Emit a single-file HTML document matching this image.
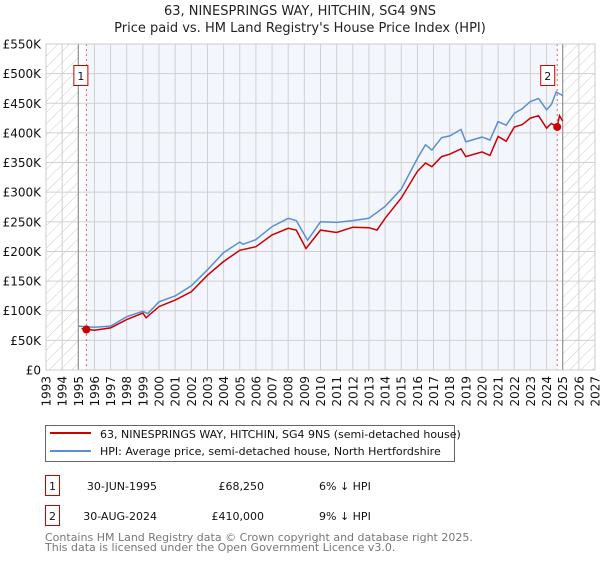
<!DOCTYPE html>
<html><head><meta charset="utf-8"><style>
body{margin:0;background:#fff;font-family:"DejaVu Sans","Liberation Sans",sans-serif}
svg text{font-family:"DejaVu Sans","Liberation Sans",sans-serif}
</style></head><body>
<svg id="c" width="600" height="560" viewBox="0 0 600 560">
<defs><pattern id="hatch" width="8" height="8" patternUnits="userSpaceOnUse" patternTransform="rotate(45)"><line x1="0" y1="0" x2="0" y2="8" stroke="#ccc" stroke-width="1"/></pattern></defs>
<text x="300" y="15" text-anchor="middle" font-size="13" fill="#222">63, NINESPRINGS WAY, HITCHIN, SG4 9NS</text>
<text x="300" y="32" text-anchor="middle" font-size="13" fill="#222">Price paid vs. HM Land Registry's House Price Index (HPI)</text>
<g id="plot"></g>
<g>
<rect x="45.5" y="425.5" width="409" height="36" fill="#fff" stroke="#666"/>
<line x1="50" y1="433" x2="91" y2="433" stroke="#cc0000" stroke-width="2"/>
<text x="100" y="438" font-size="11" fill="#111">63, NINESPRINGS WAY, HITCHIN, SG4 9NS (semi-detached house)</text>
<line x1="50" y1="451" x2="91" y2="451" stroke="#5b8fd0" stroke-width="2"/>
<text x="100" y="455" font-size="11" fill="#111">HPI: Average price, semi-detached house, North Hertfordshire</text>
</g>
<g font-size="11" fill="#111">
<rect x="45.5" y="475.5" width="14" height="20" fill="#fff" stroke="#cc0000"/>
<text x="52.5" y="490" text-anchor="middle">1</text>
<text x="157" y="490" text-anchor="end">30-JUN-1995</text>
<text x="264" y="490" text-anchor="end">£68,250</text>
<text x="319" y="490">6% ↓ HPI</text>
<rect x="45.5" y="505.5" width="14" height="20" fill="#fff" stroke="#cc0000"/>
<text x="52.5" y="520" text-anchor="middle">2</text>
<text x="157" y="520" text-anchor="end">30-AUG-2024</text>
<text x="264" y="520" text-anchor="end">£410,000</text>
<text x="319" y="520">9% ↓ HPI</text>
</g>
<text x="45" y="541" font-size="11" fill="#777">Contains HM Land Registry data © Crown copyright and database right 2025.</text>
<text x="45" y="551" font-size="11" fill="#777">This data is licensed under the Open Government Licence v3.0.</text>
</svg>
<script>
const hpiYears=[1995.0,1996.0,1997.0,1998.0,1999.0,1999.3,2000.0,2001.0,2002.0,2003.0,2004.0,2005.0,2005.2,2006.0,2007.0,2008.0,2008.5,2009.2,2010.0,2011.0,2012.0,2013.0,2014.0,2015.0,2016.0,2016.5,2016.9,2017.5,2018.0,2018.7,2019.0,2020.0,2020.5,2021.0,2021.5,2022.0,2022.5,2023.0,2023.5,2024.0,2024.3,2024.6,2025.0];
const hpiValues=[74,72,74,90,99,95,115,125,142,169,198,216,212,220,242,256,252,219,250,249,252,256,276,305,357,380,371,392,395,406,385,393,388,419,413,433,441,453,458,439,448,469,463];
const propYears=[1995.2,1996.0,1997.0,1998.0,1999.0,1999.2,2000.0,2001.0,2002.0,2003.0,2004.0,2005.0,2006.0,2007.0,2008.0,2008.5,2009.1,2010.0,2011.0,2012.0,2013.0,2013.5,2014.0,2015.0,2016.0,2016.5,2016.9,2017.5,2018.0,2018.7,2019.0,2020.0,2020.5,2021.0,2021.5,2022.0,2022.5,2023.0,2023.5,2024.0,2024.3,2024.66,2024.8,2025.0];
const propValues=[70,67,71,85,96,88,107,118,132,160,183,202,208,228,239,236,205,236,232,241,240,236,256,290,335,349,343,360,364,373,360,368,362,394,386,410,414,425,429,408,416,410,429,420];
const saleYears=[1995.5,2024.66];
const saleValues=[68.25,410];
const yTicks=[0,50,100,150,200,250,300,350,400,450,500,550];
const yTickLabels=["£0","£50K","£100K","£150K","£200K","£250K","£300K","£350K","£400K","£450K","£500K","£550K"];
const xTicks=[1993,1994,1995,1996,1997,1998,1999,2000,2001,2002,2003,2004,2005,2006,2007,2008,2009,2010,2011,2012,2013,2014,2015,2016,2017,2018,2019,2020,2021,2022,2023,2024,2025,2026,2027];

const X0=46,X1=595,Y0=370,Y1=44;
const xs=y=>X0+(y-1993)/(2027-1993)*(X1-X0);
const ys=v=>Y0-v/550*(Y0-Y1);
const NS="http://www.w3.org/2000/svg";
const g=document.getElementById('plot');
function mk(t,a){const e=document.createElementNS(NS,t);for(const k in a)e.setAttribute(k,a[k]);g.appendChild(e);return e;}
let e;
e=mk('rect',{x:xs(1995),y:Y1,width:xs(2025)-xs(1995),height:Y0-Y1,fill:'#f3f6fd'});


e=mk('rect',{x:xs(1995),y:Y1,width:xs(saleYears[0])-xs(1995),height:Y0-Y1,fill:'#fff'});


e=mk('rect',{x:xs(saleYears[1]),y:Y1,width:xs(2025)-xs(saleYears[1]),height:Y0-Y1,fill:'#fff'});


e=mk('rect',{x:X0,y:Y1,width:xs(1995)-X0,height:Y0-Y1,fill:'url(#hatch)'});


e=mk('rect',{x:xs(2025),y:Y1,width:X1-xs(2025),height:Y0-Y1,fill:'url(#hatch)'});


xTicks.forEach(t=>{
  e=mk('line',{x1:xs(t),x2:xs(t),y1:Y1,y2:Y0,stroke:'#d0d0d0','stroke-width':1});
  
  
  e=mk('text',{x:0,y:0,'font-size':12,fill:'#111','text-anchor':'end',transform:`translate(${xs(t)+4.5},376) rotate(-90)`});
  e.textContent=t;
  
  
});
yTicks.forEach((t,i)=>{
  e=mk('line',{x1:X0,x2:X1,y1:ys(t),y2:ys(t),stroke:'#d0d0d0','stroke-width':1});
  
  
  e=mk('text',{x:41,y:ys(t)+4.5,'font-size':12,fill:'#111','text-anchor':'end'});
  e.textContent=yTickLabels[i];
  
  
});
[1995,2025].forEach(t=>{
  e=mk('line',{x1:xs(t),x2:xs(t),y1:Y1,y2:Y0,stroke:'#888','stroke-width':1});
  
  
});
saleYears.forEach((t,i)=>{
  e=mk('line',{x1:xs(t),x2:xs(t),y1:Y1,y2:Y0,stroke:'#e06060','stroke-width':1,'stroke-dasharray':'2,3'});
  
  
});
e=mk('path',{d:hpiYears.map((y,i)=>(i?'L':'M')+xs(y).toFixed(1)+','+ys(hpiValues[i]).toFixed(1)).join(''),fill:'none',stroke:'#5b8fd0','stroke-width':1.5});


e=mk('path',{d:propYears.map((y,i)=>(i?'L':'M')+xs(y).toFixed(1)+','+ys(propValues[i]).toFixed(1)).join(''),fill:'none',stroke:'#cc0000','stroke-width':1.5});


saleYears.forEach((t,i)=>{
  e=mk('circle',{cx:xs(t),cy:ys(saleValues[i]),r:4,fill:'#cc0000'});
  
  
  const bx=xs(t)-(i?10:6)-7;
  e=mk('rect',{x:bx+0.5,y:65.5,width:14,height:20,fill:'#fff',stroke:'#cc0000'});
  
  
  e=mk('text',{x:bx+7.5,y:80,'font-size':11,fill:'#111','text-anchor':'middle'});
  e.textContent=String(i+1);
  
  
});
e=mk('rect',{x:X0,y:Y1,width:X1-X0,height:Y0-Y1,fill:'none',stroke:'#ccc'});


</script>
</body></html>
